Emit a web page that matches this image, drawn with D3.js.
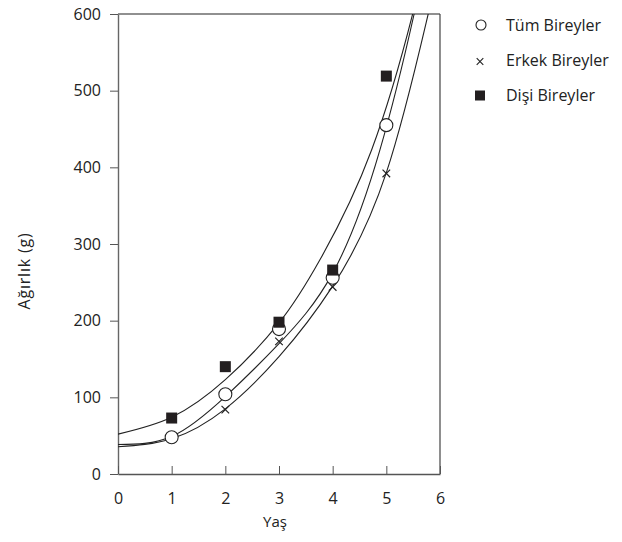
<!DOCTYPE html>
<html>
<head>
<meta charset="utf-8">
<script src="https://cdn.jsdelivr.net/npm/d3@7"></script>
<style>
  html, body { margin: 0; padding: 0; background: #fff; }
  svg { display: block; }
  text { font-family: "Open Sans", "DejaVu Sans", sans-serif; fill: #222; }
</style>
</head>
<body>
<svg id="chart" width="622" height="542"></svg>
<script>
// ---- data ----
const ages = [1, 2, 3, 4, 5];
const tumValues   = [48, 104, 189, 256, 455];
const erkekValues = [46, 84, 173, 244, 392];
const disiValues  = [73, 140, 198, 266, 519];

const seriesNames = ["Tüm Bireyler", "Erkek Bireyler", "Dişi Bireyler"];

// fitted growth curves, values at these ages
const disiCurveX  = [0, 1, 2, 3, 3.76, 4.727, 5.49, 5.6];
const disiCurveY  = [52, 74, 123, 197, 279, 423, 600, 640];
const tumCurveX   = [0, 1, 2, 3, 4, 4.882, 5.518, 5.6];
const tumCurveY   = [38.5, 49, 101, 170, 262, 423, 600, 630];
const erkekCurveX = [0, 1, 2, 3, 4, 5, 5.78, 5.9];
const erkekCurveY = [35.6, 46, 85, 153, 245, 393, 600, 630];

const xTicks = [0, 1, 2, 3, 4, 5, 6];
const yTicks = [0, 100, 200, 300, 400, 500, 600];

// ---- layout ----
const svg = d3.select("#chart");
const x = d3.scaleLinear().domain([0, 6]).range([118, 440]);
const y = d3.scaleLinear().domain([0, 600]).range([474, 14]);

svg.append("defs").append("clipPath").attr("id", "plotclip")
  .append("rect").attr("x", x(0)).attr("y", y(600)).attr("width", x(6) - x(0)).attr("height", y(0) - y(600));

// frame top / right
svg.append("line").attr("x1", x(0)).attr("x2", x(6)).attr("y1", y(600)).attr("y2", y(600))
  .attr("stroke", "#222").attr("stroke-width", 1.2);
svg.append("line").attr("x1", x(6)).attr("x2", x(6)).attr("y1", y(600)).attr("y2", y(0))
  .attr("stroke", "#444").attr("stroke-width", 1.2);

// y axis
const yAxis = svg.append("g").attr("transform", `translate(${x(0)},0)`)
  .call(d3.axisLeft(y).tickValues(yTicks).tickFormat(d3.format("d")).tickSize(8).tickSizeOuter(0).tickPadding(9));
yAxis.select(".domain").attr("stroke", "#666").attr("stroke-width", 1.4);
yAxis.selectAll(".tick line").attr("stroke", "#555");
yAxis.selectAll(".tick text").attr("font-size", 16).attr("fill", "#222")
  .attr("font-family", "'Open Sans', sans-serif");

// x axis (ticks inward)
const xAxis = svg.append("g").attr("transform", `translate(0,${y(0)})`)
  .call(d3.axisBottom(x).tickValues(xTicks).tickFormat(d3.format("d")).tickSizeInner(-8).tickSizeOuter(0).tickPadding(19));
xAxis.select(".domain").attr("stroke", "#555").attr("stroke-width", 1.4);
xAxis.selectAll(".tick line").attr("stroke", "#555");
xAxis.selectAll(".tick text").attr("font-size", 16).attr("fill", "#222")
  .attr("font-family", "'Open Sans', sans-serif");

// axis titles
svg.append("text").attr("x", 275).attr("y", 527).attr("text-anchor", "middle")
  .attr("font-size", 15).text("Yaş");
svg.append("text").attr("transform", "translate(30,271) rotate(-90)").attr("text-anchor", "middle")
  .attr("font-size", 16).attr("letter-spacing", 0.8).text("Ağırlık (g)");

// fitted curves
const line = d3.line().x(d => x(d[0])).y(d => y(d[1])).curve(d3.curveNatural);
const curves = svg.append("g").attr("clip-path", "url(#plotclip)");
[[disiCurveX, disiCurveY], [tumCurveX, tumCurveY], [erkekCurveX, erkekCurveY]].forEach(([cx, cy]) => {
  curves.append("path")
    .datum(cx.map((v, i) => [v, cy[i]]))
    .attr("d", line).attr("fill", "none").attr("stroke", "#222").attr("stroke-width", 1.1);
});

// markers
const crossPath = s => `M${-s},${-s}L${s},${s}M${-s},${s}L${s},${-s}`;
const pts = svg.append("g");
pts.selectAll(".erkek").data(ages).enter().append("path")
  .attr("transform", (d, i) => `translate(${x(d)},${y(erkekValues[i])})`)
  .attr("d", crossPath(3.8)).attr("stroke", "#222").attr("stroke-width", 1.2).attr("fill", "none");
pts.selectAll(".tum").data(ages).enter().append("circle")
  .attr("cx", d => x(d)).attr("cy", (d, i) => y(tumValues[i])).attr("r", 6.5)
  .attr("fill", "#fff").attr("stroke", "#222").attr("stroke-width", 1.1);
pts.selectAll(".disi").data(ages).enter().append("rect")
  .attr("x", d => x(d) - 5.5).attr("y", (d, i) => y(disiValues[i]) - 5.5)
  .attr("width", 11).attr("height", 11).attr("fill", "#231f20");

// legend
const lg = svg.append("g");
const rows = [25, 60.5, 95.5];
lg.append("circle").attr("cx", 481).attr("cy", rows[0]).attr("r", 5)
  .attr("fill", "#fff").attr("stroke", "#222").attr("stroke-width", 1.1);
lg.append("path").attr("transform", `translate(480,${rows[1] + 1})`).attr("d", crossPath(3.3))
  .attr("stroke", "#222").attr("stroke-width", 1.1);
lg.append("rect").attr("x", 475).attr("y", rows[2] - 5).attr("width", 10).attr("height", 10).attr("fill", "#231f20");
seriesNames.forEach((n, i) => {
  lg.append("text").attr("x", 506).attr("y", rows[i]).attr("dy", "0.35em")
    .attr("font-size", 16).text(n);
});
</script>
</body>
</html>
